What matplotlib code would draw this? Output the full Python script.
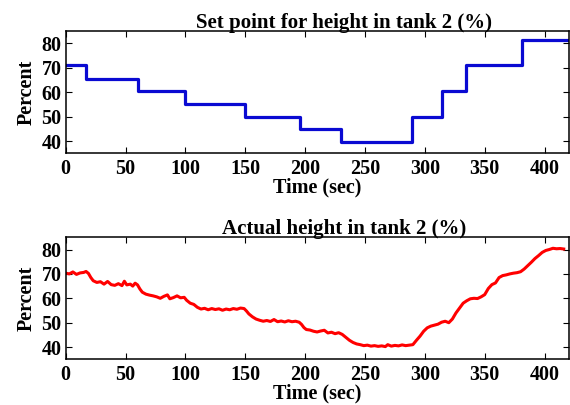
import matplotlib
matplotlib.use("Agg")
import matplotlib.pyplot as plt

# ---- data ----
sp_times = [0, 17, 60, 100, 150, 196, 230, 289, 314, 334, 381, 420]
sp_levels = [71, 65.5, 60.5, 55, 50, 45, 39.5, 50, 60.5, 71, 81.5, 81.5]

act_t = [0, 3, 6, 9, 12, 15, 17, 19, 21, 23, 26, 29, 32, 35, 38, 41, 44, 47, 49, 51,
         54, 56, 58, 60, 62, 64, 67, 70, 73, 76, 79, 82, 85, 87, 90, 93, 96, 99, 101, 104,
         107, 110, 113, 116, 119, 122, 125, 128, 131, 134, 137, 140, 143, 146, 149, 151, 153, 156, 159, 162,
         165, 168, 171, 174, 177, 180, 183, 186, 189, 192, 195, 197, 199, 201, 204, 207, 210, 213, 216, 219,
         222, 225, 228, 231, 234, 237, 240, 243, 246, 249, 252, 255, 258, 261, 264, 267, 269, 272, 275, 278,
         281, 284, 287, 290, 293, 296, 299, 302, 305, 308, 311, 314, 317, 320, 323, 326, 329, 332, 335, 338,
         341, 344, 347, 350, 353, 356, 359, 362, 365, 368, 371, 374, 377, 380, 383, 386, 389, 392, 395, 398,
         401, 404, 407, 410, 413, 416]
act_v = [70.3, 70.0, 70.8, 69.8, 70.4, 70.6, 71.0, 70.2, 68.5, 67.2, 66.5, 66.8, 65.8, 66.9, 65.6, 65.3, 66.0, 65.2, 67.0, 65.5,
         65.8, 65.0, 66.2, 65.5, 63.8, 62.5, 61.7, 61.3, 61.0, 60.6, 60.0, 60.8, 61.4, 59.8, 60.3, 61.0, 60.2, 60.4, 59.2, 58.0,
         57.5, 56.3, 55.6, 55.9, 55.3, 55.8, 55.4, 55.7, 55.1, 55.6, 55.3, 55.8, 55.5, 56.0, 55.8, 54.8, 53.6, 52.4, 51.5, 51.0,
         50.6, 50.9, 50.5, 51.3, 50.4, 50.7, 50.3, 50.8, 50.4, 50.6, 50.2, 49.3, 48.0, 47.2, 47.0, 46.5, 46.2, 46.6, 46.9, 45.8,
         46.1, 45.5, 45.9, 45.2, 44.0, 42.8, 41.9, 41.3, 41.0, 40.6, 40.8, 40.4, 40.6, 40.3, 40.5, 40.2, 41.0, 40.4, 40.7, 40.5,
         40.9, 40.6, 40.8, 41.0, 42.8, 44.5, 46.5, 47.9, 48.6, 49.0, 49.4, 50.2, 50.6, 50.0, 51.5, 54.0, 56.0, 58.0, 59.0, 59.8,
         60.0, 59.9, 60.6, 61.5, 64.0, 65.6, 66.3, 68.5, 69.3, 69.6, 70.0, 70.3, 70.5, 70.9, 72.0, 73.4, 74.8, 76.3, 77.5, 78.8,
         79.6, 80.0, 80.5, 80.3, 80.4, 80.2]

x_ticks = [0, 50, 100, 150, 200, 250, 300, 350, 400]
y_ticks = [40, 50, 60, 70, 80]
titles = ["Set point for height in tank 2 (%)", "Actual height in tank 2 (%)"]
xlabel = "Time (sec)"
ylabel = "Percent"

# ---- figure ----
W, H = 570, 405
fig = plt.figure(figsize=(W / 100, H / 100), dpi=100)
font = dict(family="Liberation Serif", weight="bold", size=14.5)
tfont = dict(family="Liberation Serif", weight="bold", size=15)

def make_axes(top_px, bot_px):
    left_px, right_px = 65.7, 568.5
    return fig.add_axes([left_px / W, 1 - bot_px / H,
                         (right_px - left_px) / W, (bot_px - top_px) / H])

ax1 = make_axes(31, 153.3)
ax2 = make_axes(237.3, 359.3)

ax1.step(sp_times, sp_levels, where="post", color="#0a0ad2", lw=2.3)
ax2.plot(act_t, act_v, color="#ff0000", lw=2.2)

for ax, title, top_px, bot_px in [(ax1, titles[0], 31, 153.3), (ax2, titles[1], 237.3, 359.3)]:
    ax.set_xlim(0, 420)
    ax.set_ylim(35, 85)
    ax.set_xticks(x_ticks)
    ax.set_yticks(y_ticks)
    ax.tick_params(direction="in", top=True, right=True, length=4, width=0.8,
                   pad=4)
    ax.tick_params(axis="y", pad=3)
    for lab in ax.get_xticklabels() + ax.get_yticklabels():
        lab.set_fontfamily("Liberation Serif")
        lab.set_fontweight("bold")
        lab.set_fontsize(14.5)
    for s in ax.spines.values():
        s.set_linewidth(1.1)
        s.set_color("black")
    h = bot_px - top_px
    ax.set_title(title, **tfont)
    ax.title.set_position((0.553, 1.0))
    ax.title.set_verticalalignment("center")
    ax.title.set_y((bot_px - (top_px - 13)) / h)
    ax.set_xlabel(xlabel, **font)
    ax.xaxis.set_label_coords(0.5, (bot_px - (bot_px + 34.5)) / h)
    ax.xaxis.label.set_verticalalignment("center")
    ax.set_ylabel(ylabel, **font)
    ax.yaxis.set_label_coords((27 - 65.7) / 502.8, 0.5)
    ax.yaxis.label.set_verticalalignment("center")

fig.savefig("out.png", dpi=100)
